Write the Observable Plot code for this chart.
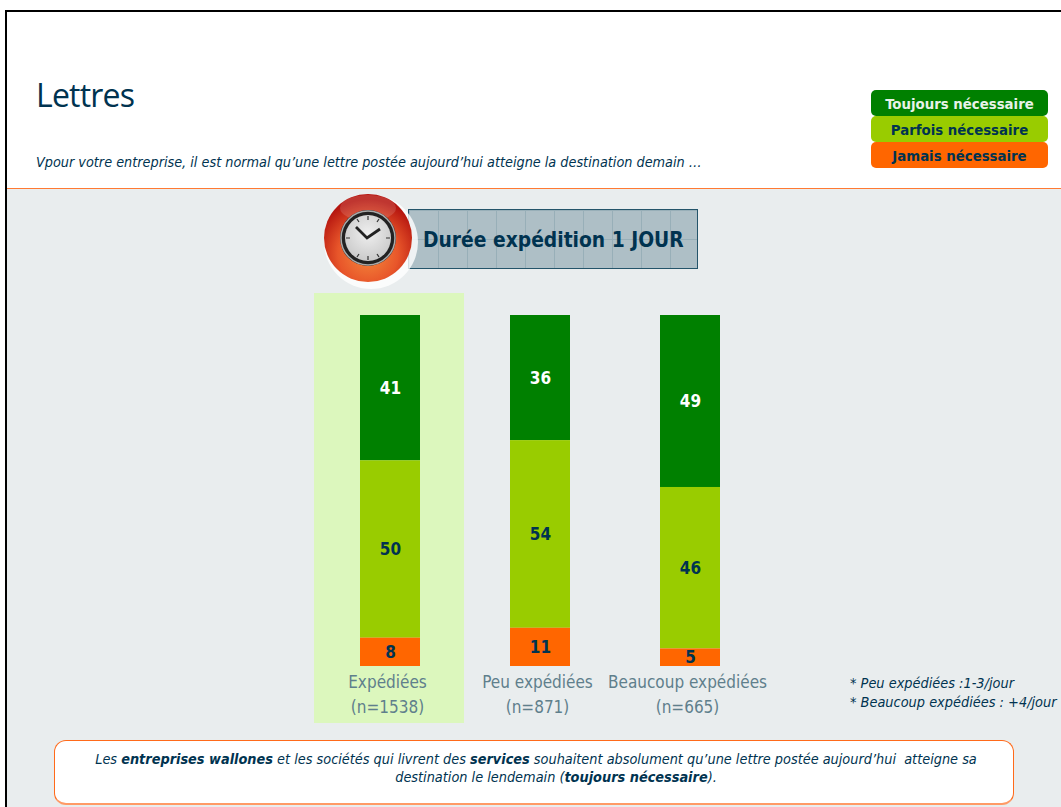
<!DOCTYPE html>
<html lang="fr"><head><meta charset="utf-8">
<script src="https://cdn.jsdelivr.net/npm/d3@7"></script>
<script src="https://cdn.jsdelivr.net/npm/@observablehq/plot@0.6"></script>
<style>
html,body{margin:0;padding:0;background:#fff;overflow:hidden}
#page{position:relative;width:1061px;height:807px;overflow:hidden;font-family:"DejaVu Sans Condensed","DejaVu Sans",sans-serif;color:#003350}
#page>*{position:absolute}
#bg{left:5px;top:188px;right:0;bottom:0;background:#e9edee;border-top:1px solid #ff7a33;box-sizing:border-box}
#frame{left:5px;top:10px;width:1100px;height:900px;border:2px solid #000;box-sizing:border-box}
#title{left:36px;top:75px;font-family:"Open Sans",sans-serif;font-size:32px;line-height:40px;letter-spacing:-.8px}
#sub{left:36px;top:153px;font-size:14.3px;line-height:18px;font-style:italic;white-space:nowrap}
#legend{left:871px;top:90px;width:177px}
#legend div{height:26px;margin-bottom:-.2px;border-radius:5px;text-align:center;font-weight:bold;font-size:14.8px;line-height:28px;color:#003350}
#banner{left:408px;top:209px;width:290px;height:60px;box-sizing:border-box;border:1px solid #24546a;background-color:#aebfc6;
 background-image:linear-gradient(#98afb8 1px,transparent 1px),linear-gradient(90deg,#98afb8 1px,transparent 1px);background-size:29px 29px;
 font-weight:bold;font-size:20.8px;line-height:60px;padding-left:14px;white-space:nowrap}
#clock{left:318px;top:188px}
#chart{left:0;top:285px}
#note{left:850px;top:674px;font-size:14.4px;line-height:19px;font-style:italic;white-space:nowrap}
#msg{left:54px;top:740px;width:960px;height:65px;box-sizing:border-box;background:#fff;border:1px solid #ff6a1a;border-bottom:2px solid #ff9a66;border-radius:12px;
 padding:9px 0;text-align:center;font-size:14.35px;line-height:18px;font-style:italic;white-space:nowrap}
#msg .l1{position:relative;left:2px}
#msg .l2{position:relative;left:22px}
</style></head><body>
<div id="page">
<div id="bg"></div><div id="frame"></div>
<div id="title">Lettres</div>
<div id="sub">Vpour votre entreprise, il est normal qu’une lettre postée aujourd’hui atteigne la destination demain …</div>
<div id="legend"></div>
<div id="banner">Durée expédition 1 JOUR</div>
<svg id="clock" width="102" height="102" viewBox="0 0 102 102">
<defs>
<radialGradient id="ball" cx=".5" cy=".68" r=".62"><stop offset="0" stop-color="#f58a3c"/><stop offset=".55" stop-color="#e8562a"/><stop offset="1" stop-color="#b5150f"/></radialGradient>
<radialGradient id="dial" cx=".5" cy=".4" r=".7"><stop offset="0" stop-color="#efefef"/><stop offset="1" stop-color="#c4c4c4"/></radialGradient>
</defs>
<circle cx="53" cy="54" r="47" fill="#fff" opacity=".8"/>
<circle cx="50" cy="50" r="44" fill="url(#ball)"/>
<ellipse cx="50" cy="20" rx="28" ry="13" fill="#fff" opacity=".14"/>
<circle cx="50" cy="50" r="28" fill="#222"/><circle cx="50" cy="50" r="27" fill="none" stroke="#aaa" stroke-width="1.5"/>
<circle cx="50" cy="50" r="23" fill="url(#dial)"/>
<path d="M38 39L49 50L62 41" fill="none" stroke="#222" stroke-width="2.8"/>
<path d="M50 28v4M50 68v4M28 50h4M68 50h4M39 31l2 3M61 31l-2 3M39 69l2-3M61 69l-2-3" stroke="#333" stroke-width="1.2"/>
</svg>
<div id="chart"></div>
<div id="note">* Peu expédiées :1-3/jour<br>* Beaucoup expédiées : +4/jour</div>
<div id="msg"><span class="l1">Les <b>entreprises wallones</b> et les sociétés qui livrent des <b>services</b> souhaitent absolument qu’une lettre postée aujourd’hui&nbsp; atteigne sa</span><br><span class="l2">destination le lendemain (<b>toujours nécessaire</b>).</span></div>
</div>
<script>
const categories = ["Expédiées", "Peu expédiées", "Beaucoup expédiées"];
const sampleSizes = [1538, 871, 665];
const seriesNames = ["Toujours nécessaire", "Parfois nécessaire", "Jamais nécessaire"];
const toujours = [41, 36, 49];
const parfois = [50, 54, 46];
const jamais = [8, 11, 5];
const seriesColors = ["#008000", "#99cc00", "#ff6600"];
const seriesText = ["#e8f2e8", "#003350", "#003350"];
const highlighted = ["Expédiées"];

const rows = [];
[toujours, parfois, jamais].forEach((vals, s) => vals.forEach((v, c) =>
  rows.push({cat: categories[c], series: seriesNames[s], value: v, ink: s === 0 ? "#fff" : "#003350"})));

const stackOrder = [...seriesNames].reverse();
const stack = o => Plot.stackY({x: "cat", y: "value", z: "series", order: stackOrder, offset: "normalize", ...o});
const nOf = c => sampleSizes[categories.indexOf(c)];

const chart = Plot.plot({
  width: 1061, height: 445,
  marginLeft: 315, marginRight: 296, marginTop: 30, marginBottom: 64,
  style: {background: "transparent", overflow: "visible"},
  x: {domain: categories, paddingInner: 0.6, paddingOuter: 0.3, axis: null},
  y: {domain: [0, 1], axis: null},
  color: {domain: seriesNames, range: seriesColors},
  marks: [
    Plot.barY(highlighted, {x: d => d, y1: 0, y2: 1, fill: "#dcf7bd", insetLeft: -46, insetRight: -44, insetTop: -22, insetBottom: -57}),
    Plot.barY(rows, stack({fill: "series"})),
    Plot.text(rows, stack({text: "value", fill: {value: "ink", scale: null}, fontWeight: "bold", fontSize: 17,
      fontFamily: "'DejaVu Sans Condensed','DejaVu Sans',sans-serif"})),
    Plot.axisX({anchor: "bottom", tickSize: 0, tickPadding: 4, label: null, lineHeight: 1.47, dx: -3,
      tickFormat: c => `${c}\n(n=${nOf(c)})`, fontSize: 17, fill: "#5f7f8c", textOverflow: null,
      fontFamily: "'DejaVu Sans Condensed','DejaVu Sans',sans-serif"})
  ]
});
document.getElementById("chart").append(chart);

const legend = document.getElementById("legend");
seriesNames.forEach((n, i) => {
  const d = document.createElement("div");
  d.textContent = n;
  d.style.background = seriesColors[i];
  d.style.color = seriesText[i];
  legend.append(d);
});
</script>
</body></html>
